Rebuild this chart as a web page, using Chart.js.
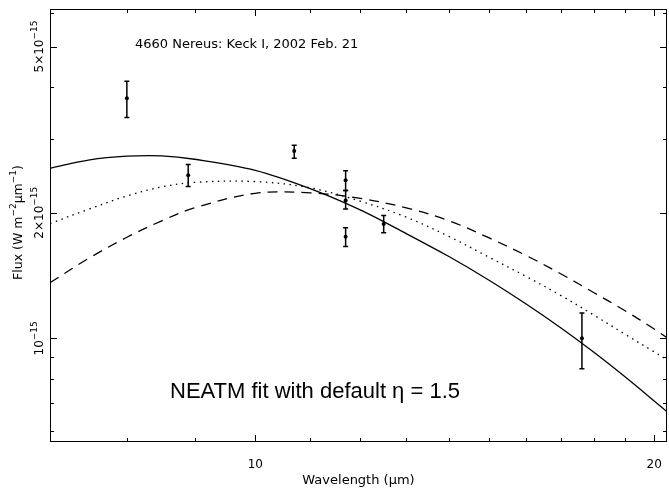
<!DOCTYPE html>
<html>
<head>
<meta charset="utf-8">
<script src="https://cdn.jsdelivr.net/npm/chart.js@4.4.1/dist/chart.umd.min.js"></script>
<style>
  html, body { margin: 0; background: #fff; }
  #wrap { width: 669px; height: 495px; position: relative; }
</style>
</head>
<body>
<div id="wrap"><canvas id="fluxChart"></canvas></div>
<script>
// wavelengths (µm) where the model curves are sampled
const modelWave = [7, 7.5, 8, 8.5, 9, 10, 11, 12, 13, 14, 15, 16, 17, 18, 19, 20, 20.45];
// model fluxes, in units of 1e-15 W m^-2 µm^-1
const fitSolid  = [2.554, 2.677, 2.731, 2.736, 2.685, 2.526, 2.284, 2.031, 1.782, 1.570, 1.380, 1.210, 1.060, 0.927, 0.810, 0.708, 0.667];
const fitDotted = [1.883, 2.043, 2.193, 2.305, 2.364, 2.374, 2.294, 2.131, 1.951, 1.754, 1.566, 1.408, 1.267, 1.138, 1.024, 0.928, 0.888];
const fitDashed = [1.359, 1.560, 1.746, 1.912, 2.054, 2.225, 2.231, 2.164, 2.054, 1.913, 1.742, 1.581, 1.428, 1.288, 1.166, 1.053, 1.003];

// Keck measurements (same units) with error bar ends
const obsWave = [8.0, 8.9, 10.7, 11.7, 11.7, 11.7, 12.5, 17.64];
const obsFlux = [3.76, 2.46, 2.81, 2.39, 2.14, 1.75, 1.88, 1.00];
const obsLow  = [3.38, 2.31, 2.70, 2.26, 2.04, 1.66, 1.79, 0.846];
const obsHigh = [4.13, 2.61, 2.90, 2.52, 2.26, 1.84, 1.97, 1.15];

const xTicks  = [7, 8, 9, 10, 11, 12, 13, 14, 15, 16, 17, 18, 19, 20];
const xLabels = [10, 20];
const yTicks  = [0.6, 0.7, 0.8, 0.9, 1, 2, 3, 4, 5, 6];
const yLabels = [1, 2, 5];   // shown as 10^-15, 2x10^-15, 5x10^-15

const FONT = '"DejaVu Sans", sans-serif';

function pts(xs, ys) {
  return xs.map((x, i) => ({ x, y: ys[i] }));
}

function curve(data, dash) {
  return {
    data, showLine: true, borderColor: '#000', borderWidth: 1.3,
    borderDash: dash, pointRadius: 0, tension: 0.35, fill: false,
  };
}

// rotated text with superscripts, reading bottom to top
function drawRotated(ctx, cx, cy, parts, size, supSize, rise) {
  ctx.save();
  ctx.translate(cx, cy);
  ctx.rotate(-Math.PI / 2);
  ctx.textBaseline = 'alphabetic';
  ctx.textAlign = 'left';
  let total = 0;
  const widths = parts.map(([t, sup]) => {
    ctx.font = `${sup ? supSize : size}px ${FONT}`;
    const w = ctx.measureText(t).width;
    total += w;
    return w;
  });
  let pos = -total / 2;
  parts.forEach(([t, sup], i) => {
    ctx.font = `${sup ? supSize : size}px ${FONT}`;
    ctx.fillText(t, pos, sup ? -rise : 0);
    pos += widths[i];
  });
  ctx.restore();
}

const pgplot = {
  id: 'pgplot',
  afterDatasetsDraw(chart) {
    const { ctx, chartArea: a, scales: { x, y } } = chart;
    ctx.save();
    ctx.strokeStyle = '#000';

    // error bars
    ctx.lineWidth = 1.5;
    obsWave.forEach((w, i) => {
      const px = x.getPixelForValue(w);
      const lo = y.getPixelForValue(obsLow[i]);
      const hi = y.getPixelForValue(obsHigh[i]);
      ctx.beginPath();
      ctx.moveTo(px, lo); ctx.lineTo(px, hi);
      ctx.moveTo(px - 2.5, lo); ctx.lineTo(px + 2.5, lo);
      ctx.moveTo(px - 2.5, hi); ctx.lineTo(px + 2.5, hi);
      ctx.stroke();
    });

    // frame and inward ticks on all four sides
    ctx.lineWidth = 1;
    ctx.strokeRect(a.left + 0.5, a.top + 0.5, a.width - 1, a.height - 1);
    ctx.beginPath();
    xTicks.forEach(v => {
      const px = Math.round(x.getPixelForValue(v)) + 0.5;
      const len = xLabels.includes(v) ? 7 : 4;
      ctx.moveTo(px, a.bottom); ctx.lineTo(px, a.bottom - len);
      ctx.moveTo(px, a.top); ctx.lineTo(px, a.top + len);
    });
    yTicks.forEach(v => {
      const py = Math.round(y.getPixelForValue(v)) + 0.5;
      const len = yLabels.includes(v) ? 7 : 4;
      ctx.moveTo(a.left, py); ctx.lineTo(a.left + len, py);
      ctx.moveTo(a.right, py); ctx.lineTo(a.right - len, py);
    });
    ctx.stroke();
    ctx.restore();
  },
  afterDraw(chart) {
    const { ctx, chartArea: a, scales: { y } } = chart;
    ctx.save();
    ctx.fillStyle = '#000';

    // y tick labels
    yLabels.forEach(v => {
      const parts = v === 1 ? [['10', false], ['\u221215', true]]
                            : [[v + '\u00d710', false], ['\u221215', true]];
      drawRotated(ctx, 43, y.getPixelForValue(v), parts, 12, 9, 6);
    });

    // y axis title
    drawRotated(ctx, 22, (a.top + a.bottom) / 2 - 3, [
      ['Flux (W m', false], ['\u22122', true], ['\u03bcm', false], ['\u22121', true], [')', false],
    ], 12.5, 9, 6);

    // annotations
    ctx.textBaseline = 'middle';
    ctx.textAlign = 'left';
    ctx.font = `13px ${FONT}`;
    ctx.fillText('4660 Nereus: Keck I, 2002 Feb. 21', 135, 45);
    ctx.font = '22px "Liberation Sans", Arial, sans-serif';
    ctx.fillText('NEATM fit with default \u03b7 = 1.5', 170, 392);
    ctx.restore();
  },
};

new Chart(document.getElementById('fluxChart'), {
  type: 'scatter',
  data: {
    datasets: [
      curve(pts(modelWave, fitSolid), []),
      curve(pts(modelWave, fitDotted), [1.5, 4.5]),
      curve(pts(modelWave, fitDashed), [10, 7]),
      {
        data: pts(obsWave, obsFlux),
        pointRadius: 2, pointBackgroundColor: '#000', pointBorderWidth: 0,
      },
    ],
  },
  options: {
    responsive: true,
    maintainAspectRatio: false,
    animation: false,
    layout: { autoPadding: false, padding: { top: 9, right: 2, left: 0, bottom: 0 } },
    plugins: { legend: { display: false }, tooltip: { enabled: false } },
    scales: {
      x: {
        type: 'logarithmic', min: 7, max: 20.45,
        afterBuildTicks: s => { s.ticks = xTicks.map(v => ({ value: v })); },
        afterFit: s => { s.height = 53; s.paddingLeft = 0; s.paddingRight = 0; },
        grid: { display: false, drawTicks: false },
        border: { display: false },
        ticks: {
          autoSkip: false, maxRotation: 0, padding: 16, color: '#000',
          font: { family: FONT, size: 12 },
          callback: v => xLabels.includes(v) ? String(v) : '',
        },
        title: {
          display: true, text: 'Wavelength (\u03bcm)', color: '#000',
          font: { family: FONT, size: 13 }, padding: { top: 0, bottom: 7 },
        },
      },
      y: {
        type: 'logarithmic', min: 0.5645, max: 6.15,
        afterBuildTicks: s => { s.ticks = yTicks.map(v => ({ value: v })); },
        afterFit: s => { s.width = 50; s.paddingTop = 0; s.paddingBottom = 0; },
        grid: { display: false, drawTicks: false },
        border: { display: false },
        ticks: { display: false },
      },
    },
  },
  plugins: [pgplot],
});
</script>
</body>
</html>
